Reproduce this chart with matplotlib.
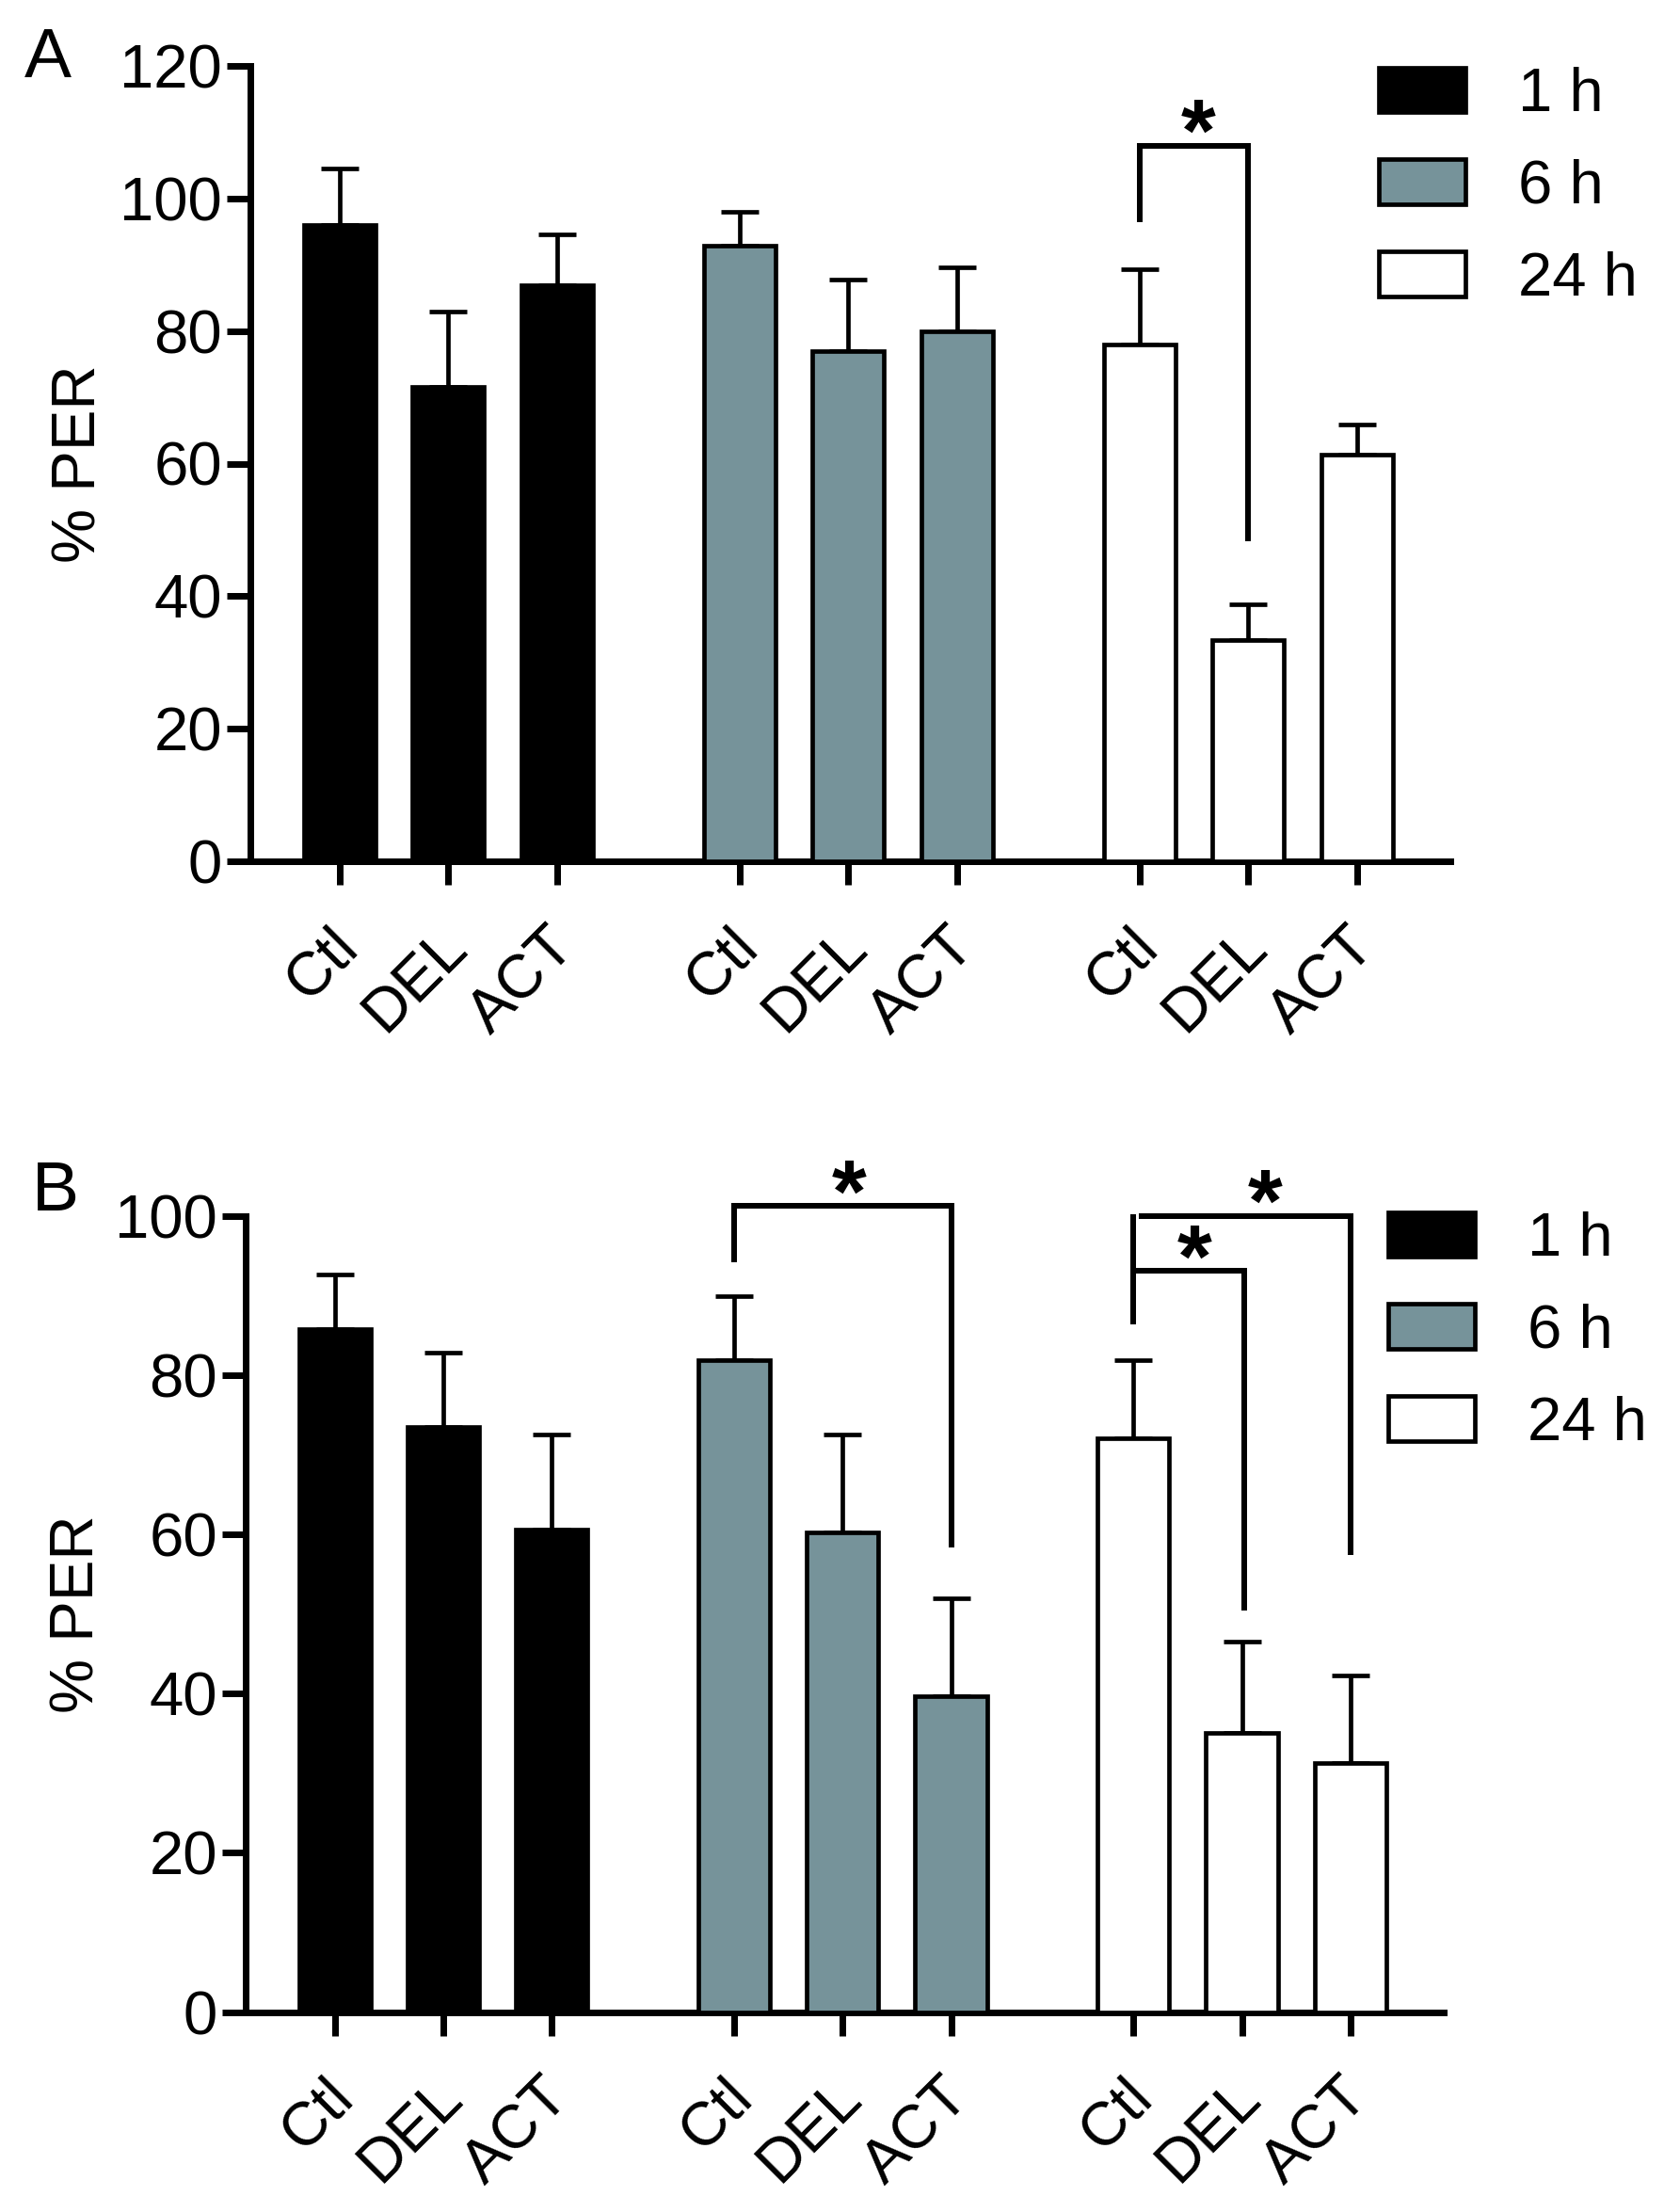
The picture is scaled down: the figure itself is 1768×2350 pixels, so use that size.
import matplotlib
matplotlib.use("Agg")
import matplotlib.pyplot as plt
from matplotlib.transforms import ScaledTranslation
import numpy as np

plt.rcParams['font.family'] = ['Liberation Sans', 'DejaVu Sans']

# ---------------- data ----------------
treatments = ["Ctl", "DEL", "ACT"]
times = ["1 h", "6 h", "24 h"]

# Panel A (% PER)
A_1h = [96.0, 71.6, 86.9]
A_1h_err = [8.5, 11.4, 7.7]
A_6h = [92.9, 77.0, 80.0]
A_6h_err = [5.1, 10.7, 9.6]
A_24h = [78.0, 33.4, 61.3]
A_24h_err = [11.3, 5.4, 4.6]

# Panel B (% PER)
B_1h = [85.8, 73.5, 60.6]
B_1h_err = [6.8, 9.3, 11.9]
B_6h = [81.9, 60.2, 39.6]
B_6h_err = [8.0, 12.3, 12.3]
B_24h = [72.0, 35.0, 31.3]
B_24h_err = [9.9, 11.5, 11.0]

A_ticks = [0, 20, 40, 60, 80, 100, 120]
B_ticks = [0, 20, 40, 60, 80, 100]

# ---------------- style ----------------
FS = 47
colors = ["#000000", "#76939a", "#ffffff"]
group_offsets = [0.0, 3.68, 7.36]
bar_w = 0.66
PX = 0.72  # points per pixel at dpi 100

fig = plt.figure(figsize=(17.68, 23.5), dpi=100)


def panel(rect, groups, errs, ylim, yticks, ylab_x, legend_xy):
    ax = fig.add_axes(rect)
    positions = []
    handles = []
    for gi, (vals, ee) in enumerate(zip(groups, errs)):
        x = np.arange(len(vals)) + group_offsets[gi]
        positions.extend(x)
        b = ax.bar(x, vals, width=bar_w, color=colors[gi], edgecolor="black",
                   linewidth=4.7 * PX, zorder=3)
        ax.errorbar(x, vals, yerr=[np.zeros(len(ee)), ee], fmt="none",
                    ecolor="black", elinewidth=4.7 * PX, capsize=20 * PX,
                    capthick=4.7 * PX, zorder=2)
        handles.append(b)
    ax.set_xlim(-0.82, 9.36 + 0.86)
    ax.set_ylim(*ylim)
    ax.set_yticks(yticks)
    ax.set_yticklabels([str(t) for t in yticks], fontsize=FS)
    ax.set_xticks(positions)
    ax.set_xticklabels(treatments * 3, fontsize=FS, rotation=45, ha="right",
                       va="baseline", rotation_mode="anchor")
    for s in ["top", "right"]:
        ax.spines[s].set_visible(False)
    for s in ["left", "bottom"]:
        ax.spines[s].set_linewidth(7 * PX)
    ax.tick_params(axis="both", direction="out", length=25 * PX, width=7 * PX)
    ax.tick_params(axis="y", pad=5 * PX)
    ax.tick_params(axis="x", pad=68 * PX)
    off = ScaledTranslation(22 / 100, 0, fig.dpi_scale_trans)
    for lab in ax.get_xticklabels():
        lab.set_transform(lab.get_transform() + off)
    ax.set_ylabel("% PER", fontsize=FS)
    ax.yaxis.set_label_coords(ylab_x, 0.5)
    ax.legend(handles, times, loc="upper left", bbox_to_anchor=legend_xy,
              bbox_transform=fig.transFigure, frameon=False, fontsize=FS,
              handlelength=1.41, handleheight=0.74, handletextpad=0.85,
              labelspacing=0.58, borderpad=0, borderaxespad=0)
    return ax


def bracket(ax, x1, y1, x2, y2, ytop):
    ax.plot([x1, x1, x2, x2], [y1, ytop, ytop, y2], color="black",
            lw=6 * PX, solid_joinstyle="miter", solid_capstyle="butt",
            clip_on=False, zorder=4)


def star(ax, x, y):
    ax.annotate("*", xy=(x, y), xytext=(0, -12), textcoords="offset points",
                ha="center", va="baseline", fontsize=68, fontweight="bold",
                annotation_clip=False, clip_on=False)


W, H = 1768.0, 2350.0
# Panel A: axis x=266px, y0=915px, y120=70px
axA = panel([266 / W, 1 - 915 / H, 1275 / W, 845 / H],
            [A_1h, A_6h, A_24h], [A_1h_err, A_6h_err, A_24h_err],
            (0, 120), A_ticks, -0.119, (1465 / W, 1 - 71 / H))
bracket(axA, 7.36, 96.4, 8.36, 48.3, 108.0)
star(axA, 7.90, 108.0)

# Panel B: axis x=261px, y0=2137.5px, y100=1291.5px
axB = panel([261 / W, 1 - 2137.5 / H, 1273 / W, 846 / H],
            [B_1h, B_6h, B_24h], [B_1h_err, B_6h_err, B_24h_err],
            (0, 100), B_ticks, -0.117, (1475 / W, 1 - 1287 / H))
bracket(axB, 3.68, 94.1, 5.68, 58.3, 101.2)
star(axB, 4.74, 101.2)
# 24 h brackets: shared left leg
axB.plot([7.36, 7.36], [86.3, 100.2], color="black", lw=6 * PX,
         solid_capstyle="butt", clip_on=False, zorder=4)
axB.plot([7.41, 9.36, 9.36], [100.0, 100.0, 57.4], color="black", lw=6 * PX,
         solid_joinstyle="miter", solid_capstyle="butt", clip_on=False, zorder=4)
axB.plot([7.36, 8.38, 8.38], [93.1, 93.1, 50.4], color="black", lw=6 * PX,
         solid_joinstyle="miter", solid_capstyle="butt", clip_on=False, zorder=4)
star(axB, 8.57, 100.0)
star(axB, 7.92, 93.1)

fig.text(26 / W, 1 - 28 / H, "A", fontsize=54, ha="left", va="top")
fig.text(34 / W, 1 - 1232 / H, "B", fontsize=54, ha="left", va="top")

fig.savefig("out.png", dpi=100)
